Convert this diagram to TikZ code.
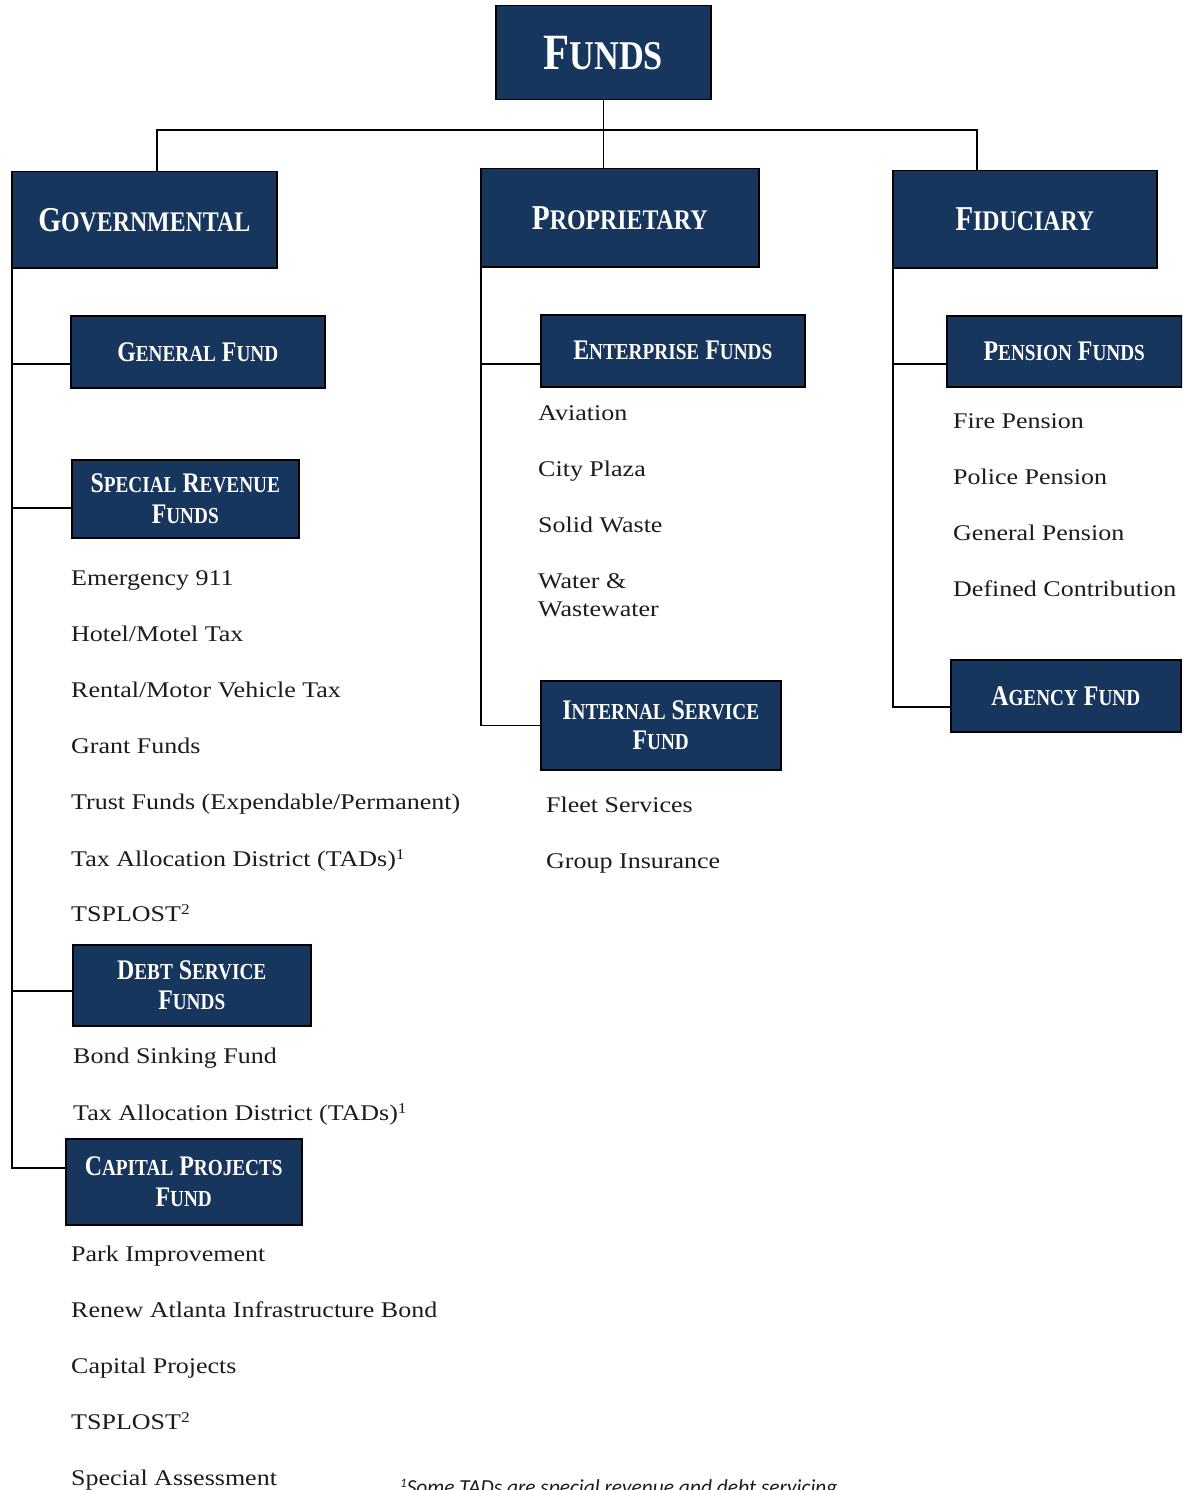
\documentclass[tikz,border=0pt]{standalone}
\usepackage{fontspec}
\setmainfont{Liberation Serif}
\newfontfamily\bodyfont[FakeStretch=1.16]{Liberation Serif}
\newfontfamily\headfont[FakeStretch=0.84]{Liberation Serif}
\newfontfamily\notefont{Carlito}
\definecolor{boxblue}{RGB}{23,54,93}
\definecolor{txt}{RGB}{28,28,28}
\newcommand\hw[2]{{\fontsize{\hb}{\hb}\selectfont#1}{\fontsize{\hs}{\hs}\selectfont#2}}
\newcommand\supn[1]{\raisebox{0.27em}{\fontsize{15}{15}\selectfont#1}}
\tikzset{
  hbox/.style={draw=black, line width=1.5bp, fill=boxblue, text=white, inner sep=0pt, anchor=north west, align=center},
  toph/.style={font=\headfont\bfseries\def\hb{51}\def\hs{41}\fontsize{51}{56}\selectfont},
  bigh/.style={font=\headfont\bfseries\def\hb{35}\def\hs{28.5}\fontsize{35}{40}\selectfont},
  subh/.style={font=\headfont\bfseries\def\hb{28.5}\def\hs{23}\fontsize{28.5}{31}\selectfont},
  item/.style={font=\bodyfont\fontsize{22.5}{28}\selectfont, text=txt, anchor=base west, inner sep=0pt, align=left},
  conn/.style={line width=1.5bp, draw=black}
}
\begin{document}
\begin{tikzpicture}[x=1bp,y=-1bp]
\useasboundingbox (0,0) rectangle (1182,1490);
\clip (0,0) rectangle (1182,1490);
\fill[white] (0,0) rectangle (1182,1490);

% boxes
\node[hbox,toph,minimum width=215bp,minimum height=94bp] (funds) at (495,5) {\hw{F}{UNDS}};
\node[hbox,bigh,minimum width=265bp,minimum height=96bp] (gov) at (11,171) {\hw{G}{OVERNMENTAL}};
\node[hbox,bigh,minimum width=278bp,minimum height=98bp] (prop) at (480,168) {\hw{P}{ROPRIETARY}};
\node[hbox,bigh,minimum width=264bp,minimum height=97bp] (fid) at (892,170) {\hw{F}{IDUCIARY}};

\node[hbox,subh,minimum width=254bp,minimum height=72bp] (genfund) at (70,315) {\hw{G}{ENERAL} \hw{F}{UND}};
\node[hbox,subh,minimum width=227bp,minimum height=78bp] (specrev) at (71,459) {\hw{S}{PECIAL} \hw{R}{EVENUE}\\\hw{F}{UNDS}};
\node[hbox,subh,minimum width=238bp,minimum height=81bp] (debt) at (72,944) {\hw{D}{EBT} \hw{S}{ERVICE}\\\hw{F}{UNDS}};
\node[hbox,subh,minimum width=236bp,minimum height=86bp] (capital) at (65,1138) {\hw{C}{APITAL} \hw{P}{ROJECTS}\\\hw{F}{UND}};
\node[hbox,subh,minimum width=264bp,minimum height=72bp] (enterprise) at (540,314) {\hw{E}{NTERPRISE} \hw{F}{UNDS}};
\node[hbox,subh,minimum width=240bp,minimum height=89bp] (internal) at (540,680) {\hw{I}{NTERNAL} \hw{S}{ERVICE}\\\hw{F}{UND}};
\node[hbox,subh,minimum width=235bp,minimum height=71bp] (pension) at (946,315) {\hw{P}{ENSION} \hw{F}{UNDS}};
\node[hbox,subh,minimum width=230bp,minimum height=72bp] (agency) at (950,659) {\hw{A}{GENCY} \hw{F}{UND}};

% governmental items
\node[item] (sr1) at (71,585) {Emergency 911};
\node[item] (sr2) at (71,641) {Hotel/Motel Tax};
\node[item] (sr3) at (71,697) {Rental/Motor Vehicle Tax};
\node[item] (sr4) at (71,753) {Grant Funds};
\node[item] (sr5) at (71,809) {Trust Funds (Expendable/Permanent)};
\node[item] (sr6) at (71,866) {Tax Allocation District (TADs)\supn{1}};
\node[item] (sr7) at (71,921) {TSPLOST\supn{2}};
\node[item] (ds1) at (73,1063) {Bond Sinking Fund};
\node[item] (ds2) at (73,1120) {Tax Allocation District (TADs)\supn{1}};
\node[item] (cp1) at (71,1261) {Park Improvement};
\node[item] (cp2) at (71,1317) {Renew Atlanta Infrastructure Bond};
\node[item] (cp3) at (71,1373) {Capital Projects};
\node[item] (cp4) at (71,1429) {TSPLOST\supn{2}};
\node[item] (cp5) at (71,1485) {Special Assessment};

% proprietary items
\node[item] (en1) at (538,420) {Aviation};
\node[item] (en2) at (538,476) {City Plaza};
\node[item] (en3) at (538,532) {Solid Waste};
\node[item] (en4) at (538,588) {Water \&};
\node[item] (en5) at (538,616) {Wastewater};
\node[item] (is1) at (546,812) {Fleet Services};
\node[item] (is2) at (546,868) {Group Insurance};

% fiduciary items
\node[item] (pf1) at (953,428) {Fire Pension};
\node[item] (pf2) at (953,484) {Police Pension};
\node[item] (pf3) at (953,540) {General Pension};
\node[item] (pf4) at (953,596) {Defined Contribution};

% footnote
\node[anchor=base west, inner sep=0pt, font=\notefont\itshape\fontsize{21.5}{24}\selectfont, text=txt] (note) at (400,1494.5) {\raisebox{0.35em}{\fontsize{13}{13}\selectfont 1}Some TADs are special revenue and debt servicing};

% top connectors
\coordinate (busL) at (157,130);
\coordinate (busR) at (977,130);
\draw[conn] (funds.south) -- (funds.south |- prop.north);
\draw[conn] (busL |- gov.north) -- (busL) -- (busR) -- (busR |- fid.north);

% governmental spine and branches
\coordinate (gsp) at ([xshift=1bp]gov.south west);
\coordinate (b1) at ([yshift=-12bp]genfund.west);
\coordinate (b2) at ([yshift=-9bp]specrev.west);
\coordinate (b3) at ([yshift=-5.5bp]debt.west);
\coordinate (b4) at ([yshift=14bp]capital.west);
\draw[conn] (gsp) |- (b4);
\draw[conn] (b1) -- (b1 -| gsp);
\draw[conn] (b2) -- (b2 -| gsp);
\draw[conn] (b3) -- (b3 -| gsp);

% proprietary spine and branches
\coordinate (psp) at ([xshift=1bp]prop.south west);
\coordinate (b5) at ([yshift=-13bp]enterprise.west);
\coordinate (b6) at (internal.west);
\draw[conn] (psp) |- (b6);
\draw[conn] (b5) -- (b5 -| psp);

% fiduciary spine and branches
\coordinate (fsp) at ([xshift=1bp]fid.south west);
\coordinate (b7) at ([yshift=-12.5bp]pension.west);
\coordinate (b8) at ([yshift=-11bp]agency.west);
\draw[conn] (fsp) |- (b8);
\draw[conn] (b7) -- (b7 -| fsp);
\end{tikzpicture}
\end{document}
